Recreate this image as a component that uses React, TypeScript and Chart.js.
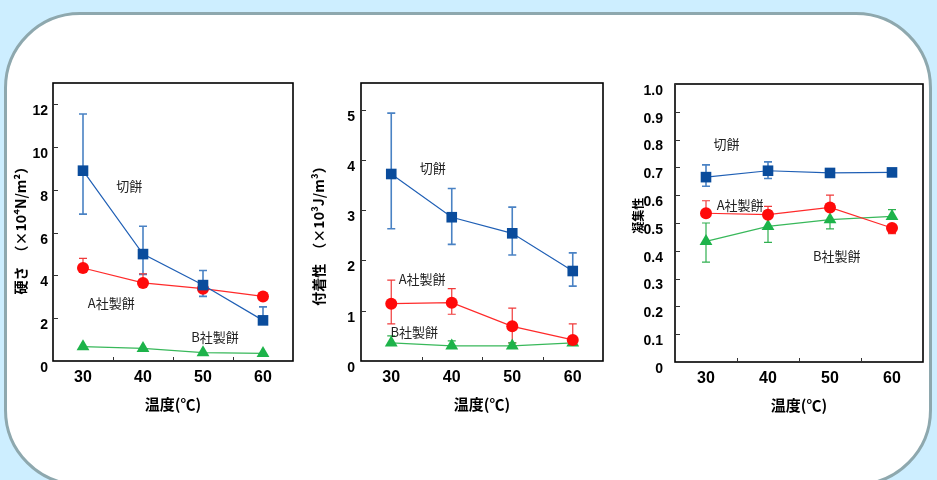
import React, { useEffect, useRef } from 'react';
import { Chart, registerables } from 'chart.js';

Chart.register(...registerables);

// ---------- data ----------
const temperatures = [30, 40, 50, 60];
const xTickValues = [30, 40, 50, 60];
const xMinorTicks = [35, 45, 55];
const seriesNames = ['切餅', 'A社製餅', 'B社製餅'];

// 硬さ (×10^4 N/m^2)
const hardnessKiri = [8.9, 5.0, 3.55, 1.9];
const hardnessKiriHigh = [11.55, 6.3, 4.23, 2.53];
const hardnessKiriLow = [6.87, 4.05, 3.02, 1.9];
const hardnessA = [4.35, 3.65, 3.38, 3.02];
const hardnessAHigh = [4.8, 4.08, 3.38, 3.02];
const hardnessALow = [4.35, 3.65, 3.38, 3.02];
const hardnessB = [0.67, 0.59, 0.39, 0.36];
const hardnessBHigh = [0.67, 0.59, 0.39, 0.36];
const hardnessBLow = [0.67, 0.59, 0.39, 0.36];
const hardnessTicks = [0, 2, 4, 6, 8, 10, 12];

// 付着性 (×10^3 J/m^3)
const adhesKiri = [3.72, 2.86, 2.54, 1.79];
const adhesKiriHigh = [4.93, 3.43, 3.06, 2.15];
const adhesKiriLow = [2.63, 2.32, 2.11, 1.49];
const adhesA = [1.14, 1.16, 0.69, 0.42];
const adhesAHigh = [1.61, 1.44, 1.05, 0.74];
const adhesALow = [0.74, 0.93, 0.36, 0.42];
const adhesB = [0.36, 0.3, 0.3, 0.36];
const adhesBHigh = [0.5, 0.4, 0.36, 0.36];
const adhesBLow = [0.36, 0.3, 0.3, 0.36];
const adhesTicks = [0, 1, 2, 3, 4, 5];

// 凝集性
const cohesKiri = [0.665, 0.688, 0.68, 0.682];
const cohesKiriHigh = [0.709, 0.72, 0.68, 0.682];
const cohesKiriLow = [0.632, 0.66, 0.68, 0.682];
const cohesA = [0.535, 0.53, 0.556, 0.482];
const cohesAHigh = [0.58, 0.56, 0.6, 0.482];
const cohesALow = [0.535, 0.53, 0.556, 0.462];
const cohesB = [0.434, 0.488, 0.512, 0.524];
const cohesBHigh = [0.5, 0.545, 0.512, 0.548];
const cohesBLow = [0.359, 0.43, 0.479, 0.524];
const cohesTicks = [0, 0.1, 0.2, 0.3, 0.4, 0.5, 0.6, 0.7, 0.8, 0.9, 1.0];

// ---------- styles ----------
const TICK_FONT = '"Liberation Sans", Arial, sans-serif';
const CJK_FONT = '"Noto Sans CJK JP", "Noto Sans", sans-serif';

const seriesStyles = [
  { marker: '#0a4c9c', line: '#1f5fb5', err: '#4a82c4', errWidth: 1.6, pointStyle: 'rect', radius: 7.5 },
  { marker: '#ff0a0a', line: '#ff2a2a', err: '#f03a3a', errWidth: 1.2, pointStyle: 'circle', radius: 6 },
  { marker: '#1db34a', line: '#38b85a', err: '#30b050', errWidth: 1.2, pointStyle: 'triangle', radius: 7.4 },
];

type Series = { values: number[]; high: number[]; low: number[] };
type Label = { text: string; x: number; y: number };

interface PanelConfig {
  left: number;
  width: number;
  pad: { left: number; right: number; top: number; bottom: number };
  yWidth: number;
  yMax: number;
  yTicks: number[];
  yTitle: string;
  yTitleSize: number;
  yTickPadding: number;
  yTickFont: { family: string; size: number; weight: any };
  yFormat: (v: number) => string;
  series: Series[];
  labels: Label[];
}

const panels: PanelConfig[] = [
  {
    left: 0,
    width: 312,
    pad: { left: 12, right: 19, top: 83, bottom: 67 },
    yWidth: 41,
    yMax: 13,
    yTicks: hardnessTicks,
    yTitle: '硬さ　（×10⁴N/m²）　 ',
    yTitleSize: 14,
    yTickPadding: 5,
    yTickFont: { family: TICK_FONT, size: 14, weight: 'bold' },
    yFormat: (v) => String(v),
    series: [
      { values: hardnessKiri, high: hardnessKiriHigh, low: hardnessKiriLow },
      { values: hardnessA, high: hardnessAHigh, low: hardnessALow },
      { values: hardnessB, high: hardnessBHigh, low: hardnessBLow },
    ],
    labels: [
      { text: seriesNames[0], x: 37.7, y: 8.19 },
      { text: seriesNames[1], x: 34.7, y: 2.7 },
      { text: seriesNames[2], x: 52, y: 1.12 },
    ],
  },
  {
    left: 300,
    width: 330,
    pad: { left: 10, right: 27, top: 83, bottom: 67 },
    yWidth: 51,
    yMax: 5.53,
    yTicks: adhesTicks,
    yTitle: '付着性　（×10³J/m³）　　',
    yTitleSize: 14,
    yTickPadding: 6,
    yTickFont: { family: TICK_FONT, size: 14, weight: 'bold' },
    yFormat: (v) => String(v),
    series: [
      { values: adhesKiri, high: adhesKiriHigh, low: adhesKiriLow },
      { values: adhesA, high: adhesAHigh, low: adhesALow },
      { values: adhesB, high: adhesBHigh, low: adhesBLow },
    ],
    labels: [
      { text: seriesNames[0], x: 36.85, y: 3.84 },
      { text: seriesNames[1], x: 35.1, y: 1.62 },
      { text: seriesNames[2], x: 33.8, y: 0.58 },
    ],
  },
  {
    left: 620,
    width: 317,
    pad: { left: 11, right: 14, top: 84, bottom: 66 },
    yWidth: 44,
    yMax: 1.0,
    yTicks: cohesTicks,
    yTitle: '　 凝集性',
    yTitleSize: 12,
    yTickPadding: 12,
    yTickFont: { family: TICK_FONT, size: 14, weight: 'bold' },
    yFormat: (v) => (v === 0 ? '0' : v.toFixed(1)),
    series: [
      { values: cohesKiri, high: cohesKiriHigh, low: cohesKiriLow },
      { values: cohesA, high: cohesAHigh, low: cohesALow },
      { values: cohesB, high: cohesBHigh, low: cohesBLow },
    ],
    labels: [
      { text: seriesNames[0], x: 33.3, y: 0.785 },
      { text: seriesNames[1], x: 35.5, y: 0.566 },
      { text: seriesNames[2], x: 51.1, y: 0.38 },
    ],
  },
];

function makeDecorPlugin(cfg: PanelConfig) {
  return {
    id: 'panelDecor',
    beforeDatasetsDraw(chart: any) {
      const { ctx } = chart;
      const xs = chart.scales.x;
      const ys = chart.scales.y;
      ctx.save();
      cfg.series.forEach((s, i) => {
        const st = seriesStyles[i];
        ctx.strokeStyle = st.err;
        ctx.lineWidth = st.errWidth;
        s.values.forEach((v, j) => {
          const px = xs.getPixelForValue(temperatures[j]);
          const py = ys.getPixelForValue(v);
          const ends: number[] = [];
          if (s.high[j] > v + 1e-9) ends.push(s.high[j]);
          if (s.low[j] < v - 1e-9) ends.push(s.low[j]);
          ends.forEach((e) => {
            const pe = ys.getPixelForValue(e);
            ctx.beginPath();
            ctx.moveTo(px, py);
            ctx.lineTo(px, pe);
            ctx.moveTo(px - 4, pe);
            ctx.lineTo(px + 4, pe);
            ctx.stroke();
          });
        });
      });
      ctx.restore();
    },
    afterDraw(chart: any) {
      const { ctx, chartArea } = chart;
      const xs = chart.scales.x;
      const ys = chart.scales.y;
      ctx.save();
      // frame
      ctx.strokeStyle = '#000';
      ctx.lineWidth = 1.6;
      ctx.strokeRect(chartArea.left, chartArea.top, chartArea.right - chartArea.left, chartArea.bottom - chartArea.top);
      // inward tick marks
      ctx.lineWidth = 1;
      ctx.strokeStyle = '#333';
      ctx.beginPath();
      cfg.yTicks.forEach((t) => {
        if (t === 0) return;
        const py = Math.round(ys.getPixelForValue(t)) + 0.5;
        ctx.moveTo(chartArea.left, py);
        ctx.lineTo(chartArea.left + 5, py);
      });
      xMinorTicks.forEach((t) => {
        const px = Math.round(xs.getPixelForValue(t)) + 0.5;
        ctx.moveTo(px, chartArea.bottom);
        ctx.lineTo(px, chartArea.bottom - 4);
      });
      ctx.stroke();
      // series labels
      ctx.fillStyle = '#222';
      ctx.font = `13px ${CJK_FONT}`;
      ctx.textAlign = 'center';
      ctx.textBaseline = 'middle';
      cfg.labels.forEach((l) => {
        ctx.fillText(l.text, xs.getPixelForValue(l.x), ys.getPixelForValue(l.y));
      });
      ctx.restore();
    },
  };
}

function Panel({ cfg }: { cfg: PanelConfig }) {
  const ref = useRef<HTMLCanvasElement | null>(null);
  useEffect(() => {
    if (!ref.current) return;
    const datasets = cfg.series.map((s, i) => {
      const st = seriesStyles[i];
      return {
        label: seriesNames[i],
        data: s.values.map((v, j) => ({ x: temperatures[j], y: v })),
        borderColor: st.line,
        borderWidth: 1.2,
        backgroundColor: st.marker,
        pointBackgroundColor: st.marker,
        pointBorderColor: st.marker,
        pointBorderWidth: 0,
        pointStyle: st.pointStyle as any,
        pointRadius: st.radius,
        pointHoverRadius: st.radius,
        tension: 0,
        fill: false,
        clip: false as any,
      };
    });
    const chart = new Chart(ref.current, {
      type: 'line',
      data: { datasets },
      options: {
        animation: false,
        responsive: false,
        maintainAspectRatio: false,
        devicePixelRatio: 1,
        events: [],
        layout: { padding: cfg.pad },
        plugins: { legend: { display: false }, tooltip: { enabled: false } },
        scales: {
          x: {
            type: 'linear',
            min: 25,
            max: 65,
            afterBuildTicks: (s: any) => {
              s.ticks = xTickValues.map((v) => ({ value: v }));
            },
            afterFit: (s: any) => {
              s.height = 52;
            },
            grid: { display: false, drawTicks: false },
            border: { display: false },
            ticks: {
              autoSkip: false,
              maxRotation: 0,
              padding: 7,
              color: '#000',
              font: { family: TICK_FONT, size: 16, weight: 'bold' },
              callback: (v: any) => String(v),
            },
            title: {
              display: true,
              text: '温度(℃)',
              color: '#000',
              padding: 0,
              font: { family: CJK_FONT, size: 15, weight: 'bold' },
            },
          },
          y: {
            type: 'linear',
            min: 0,
            max: cfg.yMax,
            afterBuildTicks: (s: any) => {
              s.ticks = cfg.yTicks.map((v) => ({ value: v }));
            },
            afterFit: (s: any) => {
              s.width = cfg.yWidth;
            },
            grid: { display: false, drawTicks: false },
            border: { display: false },
            ticks: {
              autoSkip: false,
              padding: cfg.yTickPadding,
              labelOffset: 7,
              color: '#000',
              font: cfg.yTickFont,
              callback: (v: any) => cfg.yFormat(Number(v)),
            },
            title: {
              display: true,
              text: cfg.yTitle,
              color: '#000',
              padding: 0,
              font: { family: CJK_FONT, size: cfg.yTitleSize, weight: 'bold' },
            },
          },
        },
      },
      plugins: [makeDecorPlugin(cfg)],
    });
    return () => chart.destroy();
  }, [cfg]);
  return (
    <canvas
      ref={ref}
      width={cfg.width}
      height={480}
      style={{ position: 'absolute', left: cfg.left, top: 0, width: cfg.width, height: 480 }}
    />
  );
}

export default function App() {
  return (
    <div
      style={{
        position: 'absolute',
        left: 0,
        top: 0,
        width: 937,
        height: 480,
        overflow: 'hidden',
        background: '#cdeeff',
      }}
    >
      <div
        style={{
          position: 'absolute',
          left: 4,
          top: 12,
          width: 928,
          height: 474,
          boxSizing: 'border-box',
          border: '3px solid #8ea8ae',
          borderRadius: 76,
          background: '#ffffff',
        }}
      />
      {panels.map((p, i) => (
        <Panel key={i} cfg={p} />
      ))}
    </div>
  );
}
